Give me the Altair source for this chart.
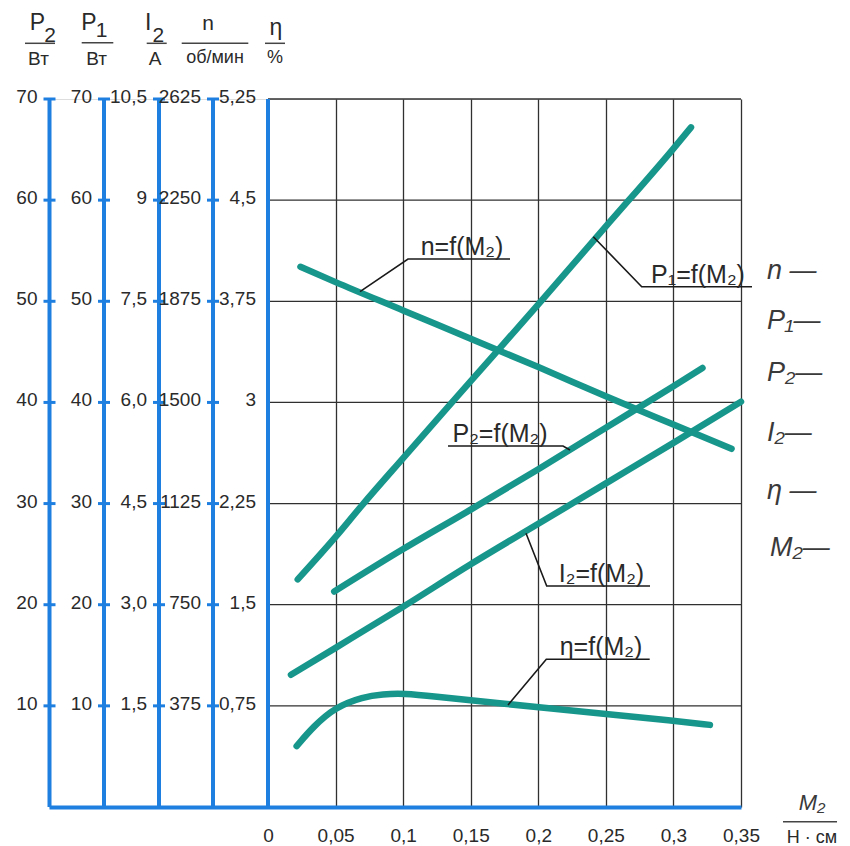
import altair as alt
import pandas as pd

# ---------------- data ----------------
# M2, N·cm  and measured quantities
m2_p1 = [0.022, 0.05, 0.07, 0.10, 0.15, 0.20, 0.25, 0.30, 0.313]
p1_w = [22.5, 26.7, 29.9, 34.5, 42.1, 49.7, 57.4, 65.1, 67.2]

m2_p2 = [0.049, 0.10, 0.15, 0.20, 0.25, 0.30, 0.3215]
p2_w = [21.3, 25.5, 29.4, 33.4, 37.5, 41.6, 43.4]

m2_i2 = [0.017, 0.05, 0.10, 0.15, 0.20, 0.25, 0.30, 0.350]
i2_a = [1.96, 2.36, 2.97, 3.60, 4.20, 4.80, 5.40, 6.01]

m2_n = [0.024, 0.05, 0.10, 0.15, 0.20, 0.25, 0.30, 0.343]
n_rpm = [2003, 1946, 1841, 1736, 1631, 1523, 1418, 1328]

m2_eta = [0.0212, 0.0335, 0.0496, 0.0705, 0.085, 0.100, 0.125, 0.150, 0.175,
          0.200, 0.250, 0.300, 0.327]
eta_pct = [0.452, 0.596, 0.740, 0.818, 0.836, 0.843, 0.818, 0.791, 0.765,
           0.741, 0.690, 0.640, 0.609]

# axis tick labels
grid_levels = [10, 20, 30, 40, 50, 60, 70]
p2_ticks = ["10", "20", "30", "40", "50", "60", "70"]
p1_ticks = ["10", "20", "30", "40", "50", "60", "70"]
i2_ticks = ["1,5", "3,0", "4,5", "6,0", "7,5", "9", "10,5"]
n_ticks = ["375", "750", "1125", "1500", "1875", "2250", "2625"]
eta_ticks = ["0,75", "1,5", "2,25", "3", "3,75", "4,5", "5,25"]
m2_ticks = [0, 0.05, 0.1, 0.15, 0.2, 0.25, 0.3, 0.35]

# scale factors of each quantity onto the common 0..70 grid
K_P, K_I, K_N, K_ETA = 1.0, 70 / 10.5, 70 / 2625, 70 / 5.25

# ---------------- layout ----------------
PAD_L, PAD_T = 41, 91
W, H = 692, 708
PX_PER_X = 1351.4
PX_PER_Y = H / 70
X0_PX, Y0_PX = 268, 807            # page position of M2=0, value=0
X_MIN = (49 - X0_PX) / PX_PER_X


def X(px):
    return (px - X0_PX) / PX_PER_X


def Y(py):
    return (Y0_PX - py) / PX_PER_Y


BLUE = "#1f7fe0"
TEAL = "#17968c"
INK = "#2a2a2a"
FONT = "Liberation Sans, Arial, sans-serif"

axis_pos = {"P2": X(49.5), "P1": X(104), "I2": X(159), "n": X(213), "eta": 0.0}

x_axis = alt.Axis(
    values=m2_ticks,
    labelExpr="replace(format(datum.value, '~g'), '.', ',')",
    grid=True, gridColor="#303030", gridWidth=1.3,
    ticks=False, domain=True, domainColor=BLUE, domainWidth=4,
    labelFont=FONT, labelFontSize=19, labelColor=INK, labelPadding=19,
    labelFlush=False, labelOverlap=False, title=None,
)
xs = alt.Scale(domain=[X_MIN, 0.35], nice=False, zero=False)
ys = alt.Scale(domain=[0, 70], nice=False, zero=False)


def XE(f="x"):
    return alt.X(f"{f}:Q", scale=xs, axis=x_axis)


def YE(f="y"):
    return alt.Y(f"{f}:Q", scale=ys, axis=None)


# ---------------- grid (horizontal, inside plot only) ----------------
hgrid = alt.Chart(pd.DataFrame({"y": grid_levels, "x": 0.0, "x2": 0.35})).mark_rule(
    color="#303030", strokeWidth=1.3
).encode(x=XE(), x2="x2:Q", y=YE())

# ---------------- blue vertical axes ----------------
ax_df = pd.DataFrame({"x": list(axis_pos.values()), "y": 0.0, "y2": 70.0})
axes = alt.Chart(ax_df).mark_rule(color=BLUE, strokeWidth=4).encode(
    x=XE(), y=YE(), y2="y2:Q"
)

tick_rows = []
label_rows = []
for key, labs in [("P2", p2_ticks), ("P1", p1_ticks), ("I2", i2_ticks),
                  ("n", n_ticks), ("eta", eta_ticks)]:
    for lv, lab in zip(grid_levels, labs):
        if key != "eta":
            tick_rows.append({"x": axis_pos[key], "y": lv})
        label_rows.append({"x": axis_pos[key], "y": lv, "t": lab})

ticks = alt.Chart(pd.DataFrame(tick_rows)).mark_tick(
    orient="horizontal", size=12, thickness=3, color=BLUE, opacity=1
).encode(x=XE(), y=YE())

tick_labels = alt.Chart(pd.DataFrame(label_rows)).mark_text(
    align="right", baseline="middle", dx=-12, dy=-2, font=FONT, fontSize=19, color=INK
).encode(x=XE(), y=YE(), text="t:N")

# ---------------- curves ----------------
rows = []
for name, xs_, vs, k in [("P1", m2_p1, p1_w, K_P), ("P2", m2_p2, p2_w, K_P),
                         ("I2", m2_i2, i2_a, K_I), ("n", m2_n, n_rpm, K_N)]:
    for a, b in zip(xs_, vs):
        rows.append({"s": name, "x": a, "y": b * k})
curves = alt.Chart(pd.DataFrame(rows)).mark_line(
    color=TEAL, strokeWidth=6.5, strokeCap="round", strokeJoin="round", interpolate="monotone"
).encode(x=XE(), y=YE(), detail="s:N")

eta_df = pd.DataFrame({"x": m2_eta, "y": [v * K_ETA for v in eta_pct]})
eta_curve = alt.Chart(eta_df).mark_line(
    color=TEAL, strokeWidth=6.5, strokeCap="round", strokeJoin="round", interpolate="basis"
).encode(x=XE(), y=YE())

# ---------------- curve labels with leaders ----------------
curve_labels = [
    ("n=f(M₂)", X(462), Y(259), [(X(360), Y(291.7)), (X(408), Y(259)), (X(510), Y(259))]),
    ("P₁=f(M₂)", X(698), Y(286.7), [(X(593.3), Y(236.7)), (X(641.7), Y(286.7)), (X(752), Y(286.7))]),
    ("P₂=f(M₂)", X(500), Y(446), [(X(448), Y(446)), (X(563), Y(446)), (X(570), Y(450))]),
    ("I₂=f(M₂)", X(601.5), Y(586), [(X(526), Y(533.3)), (X(546.7), Y(586)), (X(650), Y(586))]),
    ("η=f(M₂)", X(601), Y(659.3), [(X(508), Y(705)), (X(546.3), Y(659.3)), (X(649.7), Y(659.3))]),
]
lead_rows, ltxt_rows = [], []
for t, cx, cy, pts in curve_labels:
    ltxt_rows.append({"x": cx, "y": cy, "t": t})
    for i, (a, b) in enumerate(pts):
        lead_rows.append({"id": t, "o": i, "x": a, "y": b})

leaders = alt.Chart(pd.DataFrame(lead_rows)).mark_line(
    color="#1a1a1a", strokeWidth=1.6
).encode(x=XE(), y=YE(), detail="id:N", order="o:Q")

ltexts = alt.Chart(pd.DataFrame(ltxt_rows)).mark_text(
    align="center", baseline="alphabetic", dy=-4, font=FONT, fontSize=25, color=INK
).encode(x=XE(), y=YE(), text="t:N")

# ---------------- column headers ----------------
head_txt = [
    ("P", 37.5, 30, 23), ("2", 50, 42, 21), ("Вт", 38.5, 65, 19),
    ("P", 89, 30, 23), ("1", 101.7, 37, 21), ("Вт", 96.7, 65, 19),
    ("I", 148.3, 30, 23), ("2", 158.3, 42, 21), ("A", 155, 65, 19),
    ("n", 208, 30, 21), ("об/мин", 215, 63, 18),
    ("η", 276, 35, 23), ("%", 275, 63, 18),
    ("Н · см", 812, 843, 18),
]
head_df = pd.DataFrame([{"x": X(a), "y": Y(b), "t": t, "fs": s} for t, a, b, s in head_txt])
headers = alt.Chart(head_df).mark_text(
    align="center", baseline="alphabetic", font=FONT, color=INK
).encode(x=XE(), y=YE(), text="t:N", size=alt.Size("fs:Q", scale=None, legend=None))

head_lines = [(25, 55, 43.3), (81.7, 113.3, 42.7), (146.7, 166.7, 43.3),
              (181.7, 248.3, 43.3), (265, 285, 43.3), (783, 837, 821.7)]
hl_df = pd.DataFrame([{"x": X(a), "x2": X(b), "y": Y(c)} for a, b, c in head_lines])
hlines = alt.Chart(hl_df).mark_rule(color="#444444", strokeWidth=1.5).encode(
    x=XE(), x2="x2:Q", y=YE()
)

# ---------------- handwritten-style notes at the right ----------------
notes = [("M₂", 812, 810, "center", 22),
         ("n  —", 767, 279, "left", 27), ("P₁—", 767, 329, "left", 27),
         ("P₂—", 767, 381, "left", 27), ("I₂—", 767, 441, "left", 27),
         ("η  —", 767, 499, "left", 27), ("M₂—", 770, 556, "left", 27)]
notes_l = []
for t, a, b, al, s in notes:
    notes_l.append(
        alt.Chart(pd.DataFrame([{"x": X(a), "y": Y(b), "t": t}])).mark_text(
            align=al, baseline="alphabetic", font=FONT, fontStyle="italic",
            fontWeight=300, fontSize=s, color="#3a3a3a"
        ).encode(x=XE(), y=YE(), text="t:N")
    )

chart = alt.layer(
    hgrid, axes, ticks, tick_labels, curves, eta_curve, leaders, ltexts, headers, hlines,
    *notes_l
).properties(
    width=W, height=H,
    padding={"left": PAD_L, "top": PAD_T, "right": 100, "bottom": 40},
    autosize=alt.AutoSizeParams(type="none"),
).configure_view(stroke=None).configure(background="white")

chart.save("out.html", embed_options={"renderer": "svg", "actions": False})
